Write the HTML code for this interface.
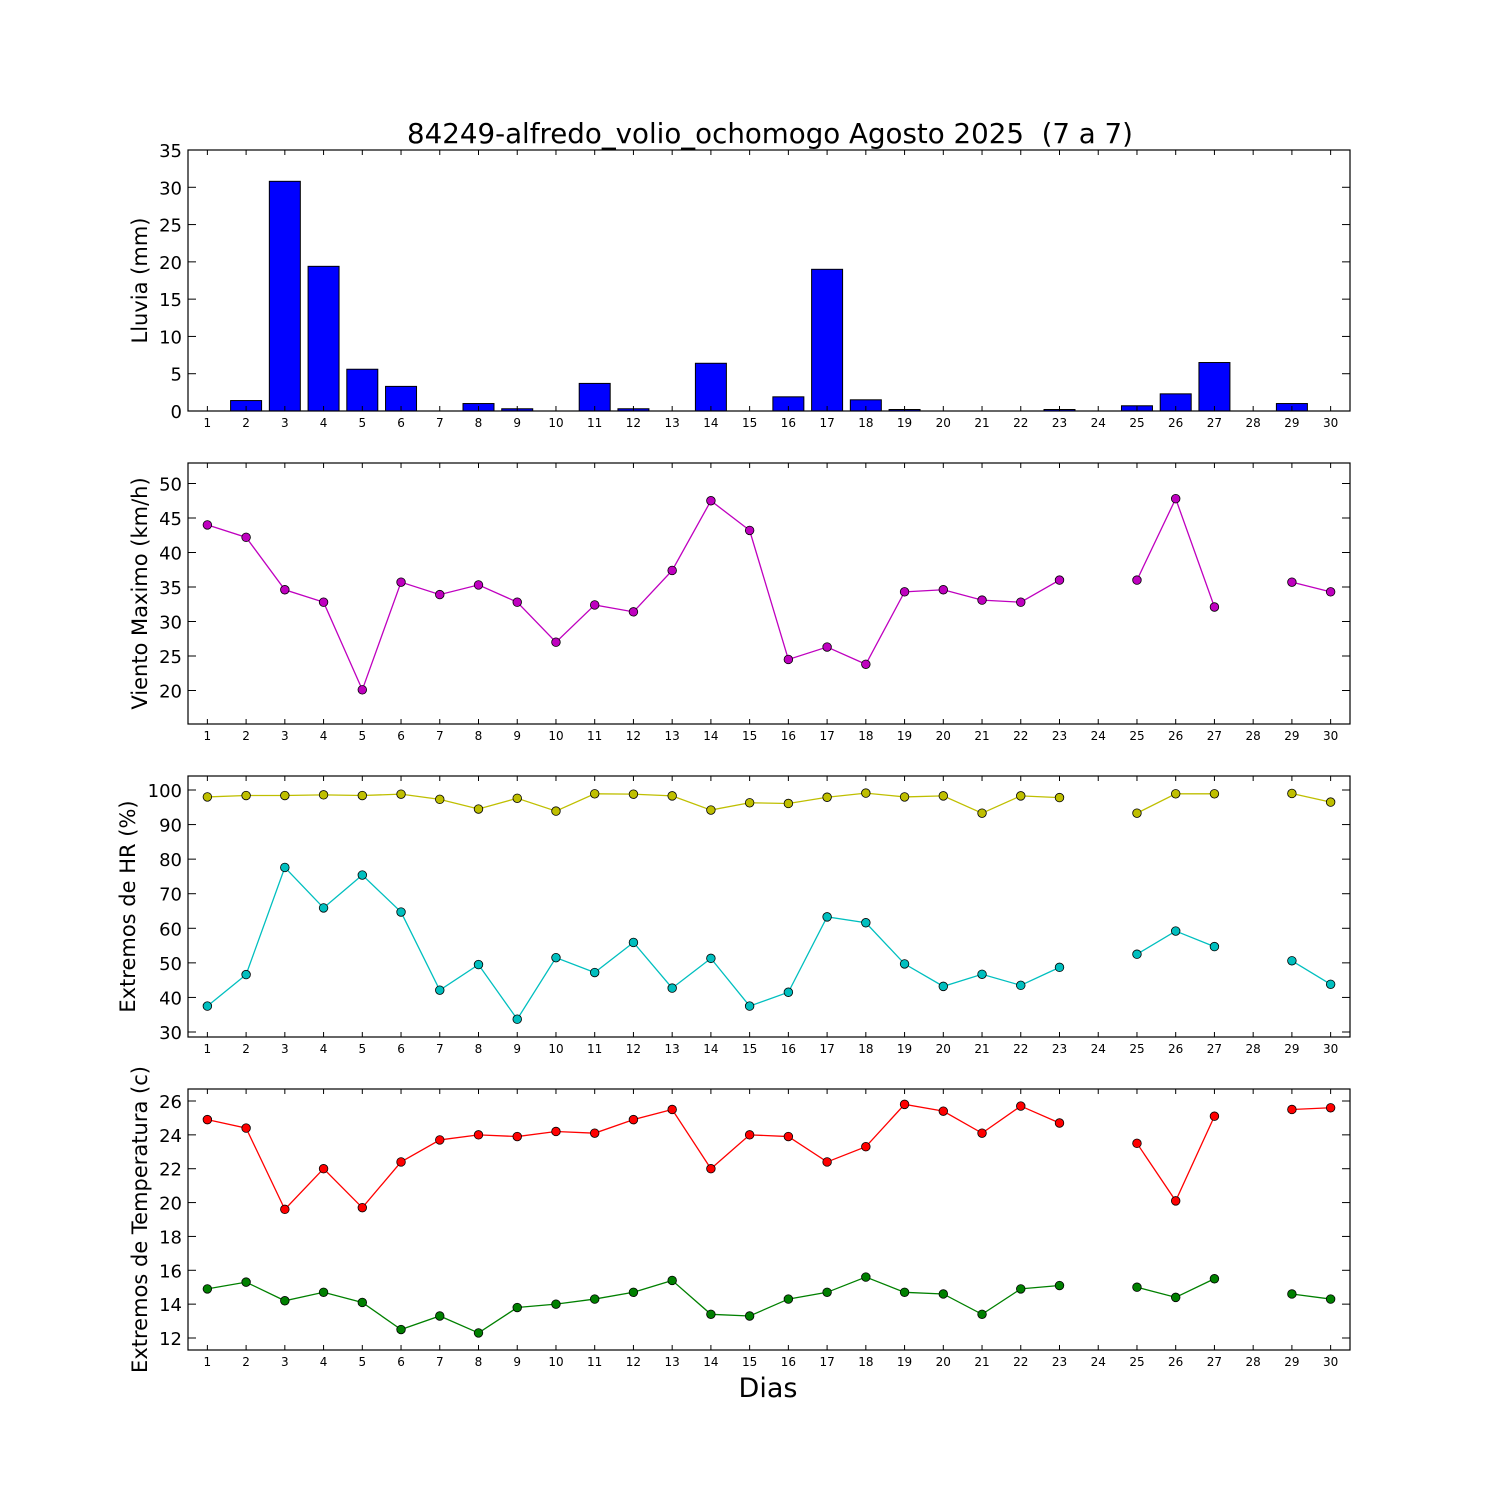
<!DOCTYPE html>
<html><head><meta charset="utf-8"><style>
html,body{margin:0;padding:0;background:#fff}
svg{display:block}
text{font-family:"DejaVu Sans","Liberation Sans",sans-serif;fill:#000}
</style></head><body>
<svg id="s" width="1500" height="1500" xmlns="http://www.w3.org/2000/svg"></svg>
<script>
const N=null;
const rain=[0,1.4,30.8,19.4,5.6,3.3,0,1.0,0.3,0,3.7,0.3,0,6.4,0,1.9,19.0,1.5,0.2,0,0,0,0.2,0,0.7,2.3,6.5,0,1.0,0];
const wind=[44,42.2,34.6,32.8,20.1,35.7,33.9,35.3,32.8,27,32.4,31.4,37.4,47.5,43.2,24.5,26.3,23.8,34.3,34.6,33.1,32.8,36,N,36,47.8,32.1,N,35.7,34.3];
const hmax=[98,98.4,98.4,98.6,98.4,98.8,97.3,94.5,97.6,93.9,98.9,98.8,98.3,94.2,96.3,96.1,97.9,99.1,98,98.3,93.3,98.3,97.8,N,93.3,98.9,98.9,N,99,96.5];
const hmin=[37.5,46.6,77.6,65.9,75.4,64.7,42.1,49.5,33.7,51.5,47.2,55.9,42.7,51.3,37.5,41.5,63.3,61.6,49.7,43.2,46.7,43.5,48.7,N,52.5,59.2,54.7,N,50.6,43.8];
const tmax=[24.9,24.4,19.6,22,19.7,22.4,23.7,24,23.9,24.2,24.1,24.9,25.5,22,24,23.9,22.4,23.3,25.8,25.4,24.1,25.7,24.7,N,23.5,20.1,25.1,N,25.5,25.6];
const tmin=[14.9,15.3,14.2,14.7,14.1,12.5,13.3,12.3,13.8,14,14.3,14.7,15.4,13.4,13.3,14.3,14.7,15.6,14.7,14.6,13.4,14.9,15.1,N,15,14.4,15.5,N,14.6,14.3];
const L=188,R=1350,dx=(R-L)/30;
const X=d=>L+(d-0.5)*dx;
let h='';
const P=[
 {t:150,b:411,ya:[0,411],yb:[35,150],ticks:[0,5,10,15,20,25,30,35],lab:'Lluvia (mm)',lx:140},
 {t:463,b:724,ya:[20,690.5],yb:[50,483.5],ticks:[20,25,30,35,40,45,50],lab:'Viento Maximo (km/h)',lx:140},
 {t:776,b:1037,ya:[30,1032],yb:[100,790],ticks:[30,40,50,60,70,80,90,100],lab:'Extremos de HR (%)',lx:128},
 {t:1089,b:1350,ya:[12,1338],yb:[26,1101],ticks:[12,14,16,18,20,22,24,26],lab:'Extremos de Temperatura (c)',lx:140}
];
P.forEach(p=>{p.Y=v=>p.ya[1]+(v-p.ya[0])*(p.yb[1]-p.ya[1])/(p.yb[0]-p.ya[0]);});
const p0=P[0];
rain.forEach((v,i)=>{const x=X(i+1)-dx*0.4,w=dx*0.8,y=p0.Y(v);h+=`<rect x="${x}" y="${y}" width="${w}" height="${411-y}" fill="#0000ff" stroke="#000" stroke-width="1"/>`;});
function series(p,data,col){
 let segs=[],cur=[];
 data.forEach((v,i)=>{if(v===N){if(cur.length)segs.push(cur);cur=[];}else cur.push([X(i+1),p.Y(v)]);});
 if(cur.length)segs.push(cur);
 segs.forEach(s=>{if(s.length>1)h+=`<polyline points="${s.map(a=>a.join(',')).join(' ')}" fill="none" stroke="${col}" stroke-width="1.3"/>`;});
 data.forEach((v,i)=>{if(v!==N)h+=`<circle cx="${X(i+1)}" cy="${p.Y(v)}" r="4.3" fill="${col}" stroke="#000" stroke-width="0.8"/>`;});
}
series(P[1],wind,'#bf00bf');
series(P[2],hmax,'#bfbf00');
series(P[2],hmin,'#00bfbf');
series(P[3],tmax,'#ff0000');
series(P[3],tmin,'#008000');
P.forEach(p=>{
 h+=`<rect x="${L}" y="${p.t}" width="${R-L}" height="${p.b-p.t}" fill="none" stroke="#000" stroke-width="1.2"/>`;
 for(let d=1;d<=30;d++){const x=X(d);h+=`<line x1="${x}" y1="${p.b}" x2="${x}" y2="${p.b-5}" stroke="#000"/><line x1="${x}" y1="${p.t}" x2="${x}" y2="${p.t+5}" stroke="#000"/>`;
  h+=`<text x="${x}" y="${p.b+16}" font-size="12" text-anchor="middle">${d}</text>`;}
 p.ticks.forEach(v=>{const y=p.Y(v);h+=`<line x1="${L}" y1="${y}" x2="${L+8}" y2="${y}" stroke="#000"/><line x1="${R}" y1="${y}" x2="${R-8}" y2="${y}" stroke="#000"/>`;
  h+=`<text x="${L-6}" y="${y+7}" font-size="18" text-anchor="end">${v}</text>`;});
 const cy=(p.t+p.b)/2;
 h+=`<text x="${p.lx+7}" y="${cy}" font-size="21" text-anchor="middle" transform="rotate(-90 ${p.lx+7} ${cy})">${p.lab}</text>`;
});
h+=`<text x="770" y="143" font-size="27.7" text-anchor="middle" xml:space="preserve">84249-alfredo_volio_ochomogo Agosto 2025  (7 a 7)</text>`;
h+=`<text x="768" y="1397" font-size="27" text-anchor="middle">Dias</text>`;
document.getElementById('s').innerHTML=h;
</script>
</body></html>
